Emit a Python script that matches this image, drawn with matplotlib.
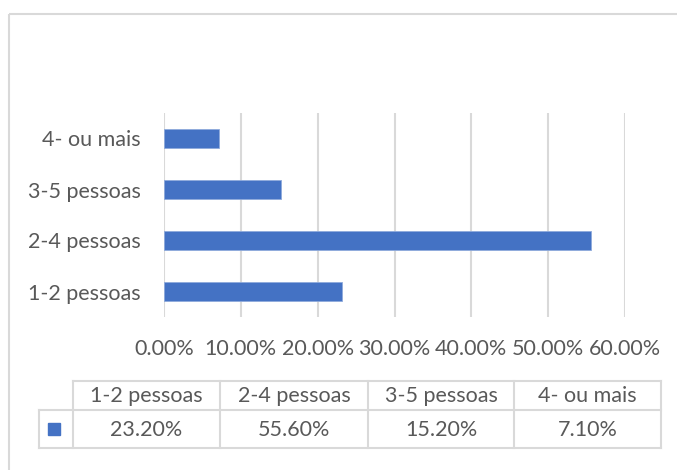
import matplotlib
matplotlib.use("Agg")
import matplotlib.pyplot as plt
from matplotlib.patches import Rectangle

categories = ["1-2 pessoas", "2-4 pessoas", "3-5 pessoas", "4- ou mais"]
values = [0.232, 0.556, 0.152, 0.071]
xticks = [0.0, 0.1, 0.2, 0.3, 0.4, 0.5, 0.6]

BAR = "#4472C4"
GRID = "#D9D9D9"
TXT = "#595959"
W, H = 677, 470
DPI = 100
FS = 15.5

plt.rcParams["font.family"] = ["Lato", "DejaVu Sans"]

fig = plt.figure(figsize=(W / DPI, H / DPI), dpi=DPI)

# bar chart area, placed in pixel units
left, right, top, bottom = 164, 625, 113, 317
ax = fig.add_axes([left / W, (H - bottom) / H, (right - left) / W, (bottom - top) / H])
ypos = list(range(len(categories)))
ax.barh(ypos, values, height=0.39, color=BAR, edgecolor="#8FAADC", linewidth=0.6, zorder=3)
ax.set_xlim(0, 0.6)
ax.set_ylim(-0.5, len(categories) - 0.5)
ax.set_xticks(xticks)
ax.set_xticklabels([f"{t * 100:.2f}%" for t in xticks], fontsize=FS, color=TXT)
ax.set_yticks(ypos)
ax.set_yticklabels(categories, fontsize=FS, color=TXT)
ax.tick_params(axis="x", length=0, pad=16)
ax.tick_params(axis="y", length=0, pad=17)
ax.grid(axis="x", color=GRID, linewidth=1.5, zorder=0)
for s in ax.spines.values():
    s.set_visible(False)

# overlay in pixel coordinates for the frame and the data table
ov = fig.add_axes([0, 0, 1, 1], zorder=-1)
ov.set_xlim(0, W)
ov.set_ylim(H, 0)
ov.axis("off")
ov.add_patch(Rectangle((9, 14), W + 20, H + 20, fill=False, edgecolor=GRID, linewidth=1.5))

ov2 = fig.add_axes([0, 0, 1, 1])
ov2.set_xlim(0, W)
ov2.set_ylim(H, 0)
ov2.axis("off")
ov2.patch.set_alpha(0)

col_x = [73, 220, 368, 514, 661]
key_x = 39
t_top, t_mid, t_bot = 381, 410, 448
lk = dict(color=GRID, linewidth=1.5)
ov2.plot([col_x[0], col_x[-1]], [t_top, t_top], **lk)
ov2.plot([key_x, col_x[-1]], [t_mid, t_mid], **lk)
ov2.plot([key_x, col_x[-1]], [t_bot, t_bot], **lk)
for x in col_x:
    ov2.plot([x, x], [t_top, t_bot], **lk)
ov2.plot([key_x, key_x], [t_mid, t_bot], **lk)
for i, (c, v) in enumerate(zip(categories, values)):
    cx = (col_x[i] + col_x[i + 1]) / 2
    ov2.text(cx, (t_top + t_mid) / 2 + 1, c, ha="center", va="center", fontsize=FS, color=TXT)
    ov2.text(cx, (t_mid + t_bot) / 2 + 1, f"{v * 100:.2f}%", ha="center", va="center", fontsize=FS, color=TXT)
ov2.add_patch(Rectangle((48, 423), 12, 12, color=BAR))

fig.savefig("out.png", dpi=DPI)
